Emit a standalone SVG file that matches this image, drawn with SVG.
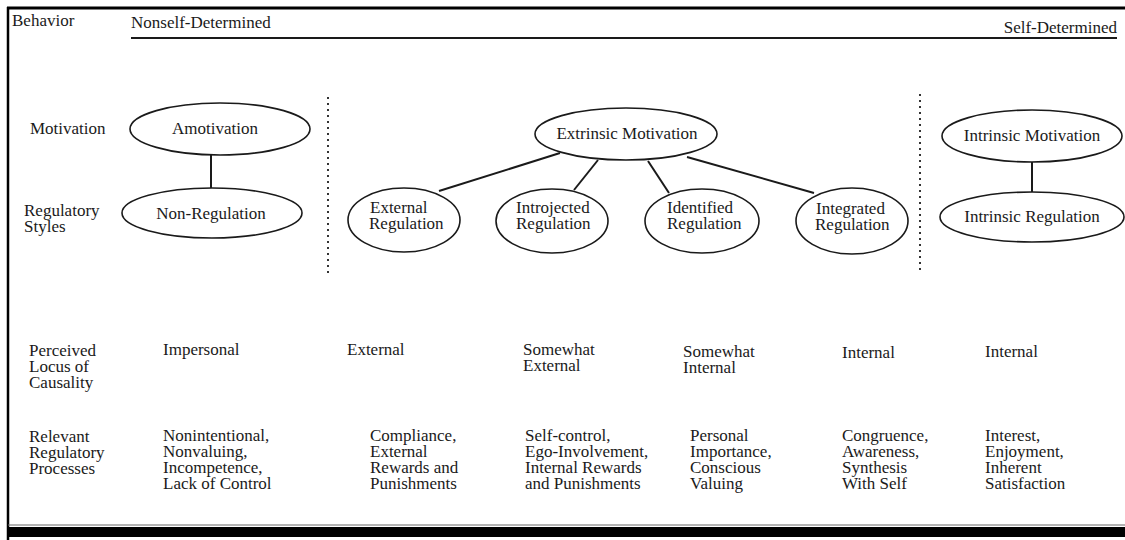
<svg xmlns="http://www.w3.org/2000/svg" width="1125" height="540" viewBox="0 0 1125 540">
<style>
text{font-family:"Liberation Serif","Times New Roman",serif;font-size:17px;fill:#1a1a1a}
.node ellipse{fill:#fff;stroke:#1a1a1a;stroke-width:1.6}
.conn line{stroke:#1a1a1a;stroke-width:2}
.dot{stroke:#333;stroke-width:2;stroke-dasharray:2 4}
.mid{text-anchor:middle}
</style>
<rect width="1125" height="540" fill="#fff"/>
<g id="frame">
<line x1="7" y1="8" x2="1125" y2="8" stroke="#000" stroke-width="3"/>
<line x1="8" y1="7" x2="8" y2="540" stroke="#000" stroke-width="2.5"/>
<rect x="8" y="527" width="1117" height="10" fill="#000"/>
<line x1="8" y1="525" x2="1125" y2="525" stroke="#666" stroke-width="1"/>
<line x1="131" y1="38" x2="1117" y2="38" stroke="#1a1a1a" stroke-width="1.8"/>
<line class="dot" x1="328" y1="97" x2="328" y2="274"/>
<line class="dot" x1="920" y1="94" x2="920" y2="274"/>
</g>
<g id="labels">
<text x="12" y="26">Behavior</text>
<text x="131" y="28">Nonself-Determined</text>
<text x="1117" y="33" text-anchor="end">Self-Determined</text>
<text x="30" y="134">Motivation</text>
<text x="24" y="216">Regulatory</text>
<text x="24" y="232">Styles</text>
<text x="29" y="356">Perceived</text>
<text x="29" y="372">Locus of</text>
<text x="29" y="388">Causality</text>
<text x="29" y="442">Relevant</text>
<text x="29" y="458">Regulatory</text>
<text x="29" y="474">Processes</text>
</g>
<g class="conn" id="connectors">
<line x1="211" y1="155" x2="211" y2="188"/>
<line x1="560" y1="153" x2="439" y2="191"/>
<line x1="598" y1="160" x2="574" y2="190"/>
<line x1="648" y1="161" x2="669" y2="193"/>
<line x1="687" y1="157" x2="814" y2="193"/>
<line x1="1032" y1="162" x2="1032" y2="192"/>
</g>
<g class="node" id="amotivation"><ellipse cx="220" cy="129" rx="90" ry="26"/><text x="215" y="134" class="mid">Amotivation</text></g>
<g class="node" id="non-regulation"><ellipse cx="212" cy="213" rx="90" ry="25"/><text x="211" y="219" class="mid">Non-Regulation</text></g>
<g class="node" id="extrinsic"><ellipse cx="626" cy="134" rx="91" ry="26"/><text x="627" y="139" class="mid">Extrinsic Motivation</text></g>
<g class="node" id="external-reg"><ellipse cx="404" cy="220" rx="56" ry="32"/><text x="370" y="213">External</text><text x="369" y="229">Regulation</text></g>
<g class="node" id="introjected-reg"><ellipse cx="552" cy="221" rx="56" ry="32"/><text x="516" y="213">Introjected</text><text x="516" y="229">Regulation</text></g>
<g class="node" id="identified-reg"><ellipse cx="702" cy="221" rx="57" ry="32"/><text x="667" y="213">Identified</text><text x="667" y="229">Regulation</text></g>
<g class="node" id="integrated-reg"><ellipse cx="852" cy="221" rx="56" ry="33"/><text x="816" y="214">Integrated</text><text x="815" y="230">Regulation</text></g>
<g class="node" id="intrinsic"><ellipse cx="1032" cy="136" rx="90" ry="26"/><text x="1032" y="141" class="mid">Intrinsic Motivation</text></g>
<g class="node" id="intrinsic-reg"><ellipse cx="1032" cy="217" rx="92" ry="25"/><text x="1032" y="222" class="mid">Intrinsic Regulation</text></g>
<g id="locus">
<text x="163" y="355">Impersonal</text>
<text x="347" y="355">External</text>
<text x="523" y="355">Somewhat</text><text x="523" y="371">External</text>
<text x="683" y="357">Somewhat</text><text x="683" y="373">Internal</text>
<text x="842" y="358">Internal</text>
<text x="985" y="357">Internal</text>
</g>
<g id="processes">
<text x="163" y="441">Nonintentional,</text><text x="163" y="457">Nonvaluing,</text><text x="163" y="473">Incompetence,</text><text x="163" y="489">Lack of Control</text>
<text x="370" y="441">Compliance,</text><text x="370" y="457">External</text><text x="370" y="473">Rewards and</text><text x="370" y="489">Punishments</text>
<text x="525" y="441">Self-control,</text><text x="525" y="457">Ego-Involvement,</text><text x="525" y="473">Internal Rewards</text><text x="525" y="489">and Punishments</text>
<text x="690" y="441">Personal</text><text x="690" y="457">Importance,</text><text x="690" y="473">Conscious</text><text x="690" y="489">Valuing</text>
<text x="842" y="441">Congruence,</text><text x="842" y="457">Awareness,</text><text x="842" y="473">Synthesis</text><text x="842" y="489">With Self</text>
<text x="985" y="441">Interest,</text><text x="985" y="457">Enjoyment,</text><text x="985" y="473">Inherent</text><text x="985" y="489">Satisfaction</text>
</g>
</svg>
